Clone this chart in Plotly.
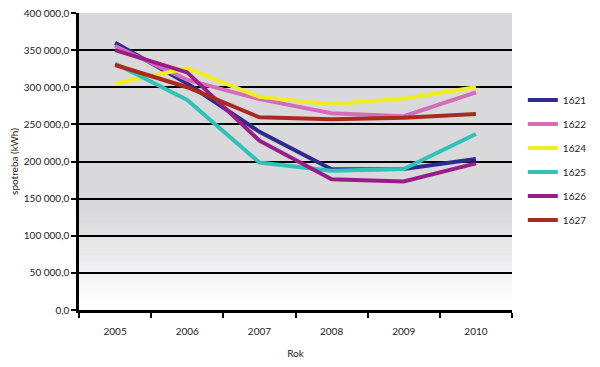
import plotly.graph_objects as go

years = ["2005", "2006", "2007", "2008", "2009", "2010"]
series_names = ["1621", "1622", "1624", "1625", "1626", "1627"]
s1621 = [360000, 305000, 240000, 189500, 190000, 203500]
s1622 = [355500, 310000, 284000, 265000, 261000, 293000]
s1624 = [305000, 325500, 287000, 277000, 285000, 300000]
s1625 = [332000, 283000, 198500, 187500, 190000, 237000]
s1626 = [350000, 320000, 228000, 176000, 173000, 197500]
s1627 = [330000, 300000, 259500, 257000, 259000, 264000]
y_ticks = [0, 50000, 100000, 150000, 200000, 250000, 300000, 350000, 400000]

series_values = [s1621, s1622, s1624, s1625, s1626, s1627]
colors = ["#2f2a8e", "#d46cb9", "#eeee22", "#2fc2b8", "#9a1c86", "#a92a20"]

fig = go.Figure()

# gradient background (grey top -> white bottom)
n = 40
top_c = (217, 217, 220)
bot_c = (255, 255, 255)
g0, g1 = 0.02, 0.33
fig.add_shape(type="rect", xref="paper", yref="paper", x0=0, x1=1, y0=g1, y1=1,
              fillcolor="rgb(%d,%d,%d)" % top_c, line_width=0, layer="below")
for i in range(n):
    a = g0 + (g1 - g0) * i / n
    b = g0 + (g1 - g0) * (i + 1) / n + 0.002
    t = (i + 0.5) / n
    c = tuple(int(round(bot_c[k] + (top_c[k] - bot_c[k]) * t)) for k in range(3))
    fig.add_shape(type="rect", xref="paper", yref="paper", x0=0, x1=1, y0=a, y1=min(b, g1),
                  fillcolor="rgb(%d,%d,%d)" % c, line_width=0, layer="below")

for name, vals, col in zip(series_names, series_values, colors):
    fig.add_trace(go.Scatter(x=years, y=vals, name=name, mode="lines",
                             line=dict(color=col, width=4), legendgroup=name))

fig.update_layout(
    width=584, height=351,
    margin=dict(l=71, r=80, t=5, b=49, autoexpand=False),
    paper_bgcolor="white",
    plot_bgcolor="rgba(0,0,0,0)",
    separators=", ",
    font=dict(family="Lato", size=10, color="#222"),
    showlegend=True,
    legend=dict(x=1.025, xanchor="left", y=0.505, yanchor="middle",
                font=dict(size=10, color="#222"), tracegroupgap=5,
                itemwidth=30, bgcolor="rgba(0,0,0,0)"),
    xaxis=dict(
        type="category", tickson="boundaries", ticks="outside", ticklen=5,
        tickwidth=2, tickcolor="black", showline=True, linecolor="black",
        linewidth=2.5, showgrid=False, zeroline=False, automargin=False,
        title=dict(text="Rok", font=dict(size=10), standoff=18),
        tickfont=dict(size=10), range=[-0.5, 5.5], ticklabelstandoff=10,
    ),
    yaxis=dict(
        range=[0, 400000], tickvals=y_ticks, tickformat=",.1f",
        ticks="outside", ticklen=5, tickwidth=2, tickcolor="black",
        showline=True, linecolor="black", linewidth=2.5, automargin=False,
        showgrid=True, gridcolor="black", gridwidth=2, zeroline=False,
        title=dict(text="spotreba (kWh)", font=dict(size=10), standoff=8),
        tickfont=dict(size=10), ticklabeloverflow="allow",
    ),
)

fig.write_html("out.html")
